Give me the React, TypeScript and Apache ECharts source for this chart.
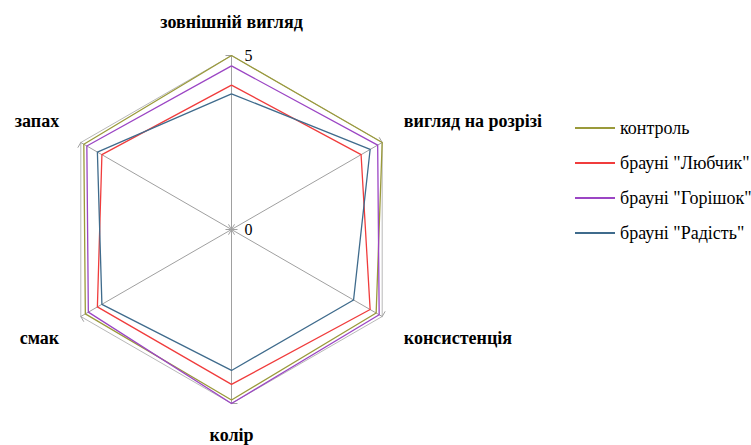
import React, { useEffect, useRef } from "react";
import * as echarts from "echarts";

// Indicators in ECharts' (counter-clockwise) order, starting at the top
const indicators = [
  "зовнішній вигляд",
  "запах",
  "смак",
  "колір",
  "консистенція",
  "вигляд на розрізі",
];
const seriesNames = ["контроль", "брауні \"Любчик\"", "брауні \"Горішок\"", "брауні \"Радість\""];
const control = [5.0, 4.9, 4.85, 4.9, 4.8, 5.0];
const lyubchyk = [4.15, 4.3, 4.45, 4.45, 4.6, 4.3];
const horishok = [4.7, 4.8, 4.75, 5.0, 4.9, 4.85];
const radist = [3.9, 4.45, 4.3, 4.05, 4.05, 4.6];
const colors = ["#9a9a3a", "#f03c3c", "#9b45c4", "#3f6b8c"];
const axisMax = 5;

const upperNames = ["запах", "вигляд на розрізі"];
const lowerNames = ["смак", "консистенція"];
const bottomNames = ["колір"];

export default function App() {
  const ref = useRef<HTMLDivElement>(null);
  useEffect(() => {
    if (!ref.current) return;
    const chart = echarts.init(ref.current, undefined, { renderer: "svg" });
    const allData = [control, lyubchyk, horishok, radist];
    const nameStyle = {
      color: "#000",
      fontFamily: "Liberation Serif",
      fontSize: 18,
      fontWeight: "bold" as const,
    };
    chart.setOption({
      animation: false,
      backgroundColor: "#ffffff",
      color: colors,
      legend: {
        orient: "vertical",
        left: 575,
        top: 119,
        padding: 0,
        itemGap: 17,
        itemWidth: 40,
        itemHeight: 2,
        icon: "rect",
        textStyle: { fontFamily: "Liberation Serif", fontSize: 18, color: "#000" },
        data: seriesNames,
      },
      radar: {
        center: [231.5, 229.5],
        radius: 174,
        shape: "polygon",
        startAngle: 90,
        splitNumber: 1,
        indicator: indicators.map((name, i) => ({
          name,
          min: 0,
          max: axisMax,
          axisLabel: i === 0 ? { show: true } : undefined,
        })),
        axisName: {
          ...nameStyle,
          formatter: (name: string) => {
            if (upperNames.includes(name)) return `{up|${name}}`;
            if (lowerNames.includes(name)) return `{down|${name}}`;
            if (bottomNames.includes(name)) return `{bottom|${name}}`;
            return `{plain|${name}}`;
          },
          rich: {
            up: { ...nameStyle, padding: [0, 0, 18, 0] },
            down: { ...nameStyle, padding: [18, 0, 0, 0] },
            bottom: { ...nameStyle, lineHeight: 13 },
            plain: { ...nameStyle },
          },
        },
        nameGap: 25,
        axisLine: { lineStyle: { color: "#a0a0a0", width: 1 } },
        axisTick: { show: true, length: 6, lineStyle: { color: "#a0a0a0" } },
        axisLabel: {
          show: false,
          color: "#000",
          fontFamily: "Liberation Serif",
          fontSize: 16,
          align: "left",
          margin: -13,
        },
        splitLine: { show: true, lineStyle: { color: "#b8b8b8", width: 1 } },
        splitArea: { show: false },
      },
      series: [
        {
          type: "radar",
          symbol: "none",
          lineStyle: { width: 1.3 },
          data: allData.map((values, i) => ({
            name: seriesNames[i],
            value: values,
            lineStyle: { color: colors[i], width: 1.3 },
            itemStyle: { color: colors[i] },
          })),
        },
      ],
    });
    return () => chart.dispose();
  }, []);
  return (
    <div
      ref={ref}
      style={{ position: "fixed", left: 0, top: 0, width: 751, height: 445 }}
    />
  );
}
